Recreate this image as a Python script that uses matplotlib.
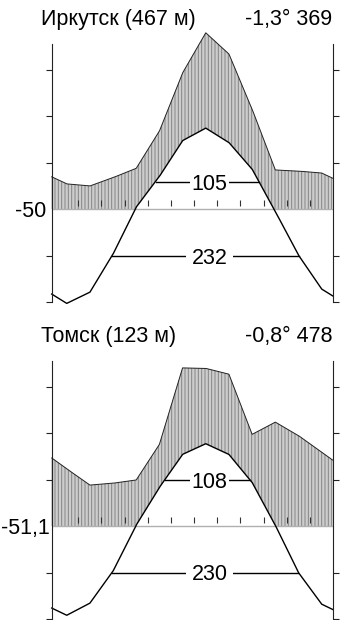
import numpy as np
import matplotlib.pyplot as plt

plt.rcParams['font.family'] = ['Liberation Sans', 'DejaVu Sans']
plt.rcParams['hatch.linewidth'] = 0.7

months = np.arange(12)

# Иркутск: температура (°C), осадки (мм)
irk_title = 'Иркутск (467 м)'
irk_info = '-1,3° 369'
irk_min = '-50'
irk_temp = [-20.3, -17.9, -9.7, 0.4, 7.0, 14.7, 17.4, 14.3, 8.6, -0.5, -9.9, -17.2]
irk_prec = [10.8, 9.9, 13.5, 17.5, 33.5, 58.5, 75.8, 66.7, 43.0, 16.8, 16.3, 15.5]
irk_days = ['105', '232']
irk_levels = [5.9, -10]

# Томск
tom_title = 'Томск (123 м)'
tom_info = '-0,8° 478'
tom_min = '-51,1'
tom_temp = [-19.2, -16.6, -9.7, 0.2, 8.3, 15.4, 17.7, 15.4, 9.4, 0.2, -10.0, -16.8]
tom_prec = [24.6, 17.6, 18.4, 19.8, 35.1, 68.0, 67.8, 65.3, 39.4, 44.7, 38.9, 31.8]
tom_days = ['108', '230']
tom_levels = [10, -10]

x0, x1 = -0.648, 11.48
W, H = 340, 620
fs = 15.5


def diagram(rect, temp, prec, days, levels, minlab, minoff):
  ax = fig.add_axes(rect)
  ax.set_xlim(x0, x1)
  ax.set_ylim(-20, 35.4)
  #dense grid for the fill (piecewise linear, wraps Dec->Jan)
  xf = np.linspace(x0, x1, 2000)
  tf = np.interp(xf, months, temp, period=12)
  pf = np.interp(xf, months, prec, period=12) / 2.0
  ax.fill_between(xf, np.maximum(tf, 0), pf, facecolor='#cdcdcd',
                  edgecolor='#858585', hatch='|||||', linewidth=0, clip_on=False)
  ax.axhline(0, color='#b0b0b0', lw=1.0)
  ax.vlines(months[:-1] + 0.5, 0.7, 2.0, color='#333333', lw=0.8)
  ax.plot(xf, pf, color='#222222', lw=0.7, clip_on=False)
  ax.plot(xf, tf, color='black', lw=1.0, clip_on=False)
  #period lines
  for lab, lev in zip(days, levels):
    above = xf[tf >= lev]
    ax.plot([above[0], above[-1]], [lev, lev], color='black', lw=1.0)
    ax.text(6.17, lev, lab, ha='center', va='center_baseline', fontsize=fs,
            bbox=dict(fc='white', ec='none', pad=1.0 if lev > 0 else 4))
  ax.annotate(minlab, xy=(x0, 0), xytext=(minoff, 0), textcoords='offset points',
              ha='right', va='center_baseline', fontsize=fs)
  for s in ['top', 'bottom']:
    ax.spines[s].set_visible(False)
  for s in ['left', 'right']:
    ax.spines[s].set_linewidth(0.8)
    ax.spines[s].set_color('#222222')
  ax.set_xticks([])
  ax.set_yticks([-20, -10, 10, 20, 30])
  ax.set_yticklabels([])
  ax.tick_params(axis='y', left=True, right=True, direction='out',
                 length=4.5, width=0.8, color='#222222')
  return ax


fig = plt.figure(figsize=(W / 100, H / 100), dpi=100)

left = 51.7 / W
width = (332.7 - 51.7) / W
height = 55.4 * 4.65 / H

diagram([left, 1 - 302 / H, width, height], irk_temp, irk_prec, irk_days,
        irk_levels, irk_min, -3.6)
diagram([left, 1 - 619 / H, width, height], tom_temp, tom_prec, tom_days,
        tom_levels, tom_min, -1.2)

fig.text(40.7 / W, 1 - 25 / H, irk_title, ha='left', va='baseline', fontsize=fs)
fig.text(332.3 / W, 1 - 25 / H, irk_info, ha='right', va='baseline', fontsize=fs)
fig.text(40.7 / W, 1 - 341.7 / H, tom_title, ha='left', va='baseline', fontsize=fs)
fig.text(332.3 / W, 1 - 341.7 / H, tom_info, ha='right', va='baseline', fontsize=fs)

plt.savefig('out.png', dpi=100)
